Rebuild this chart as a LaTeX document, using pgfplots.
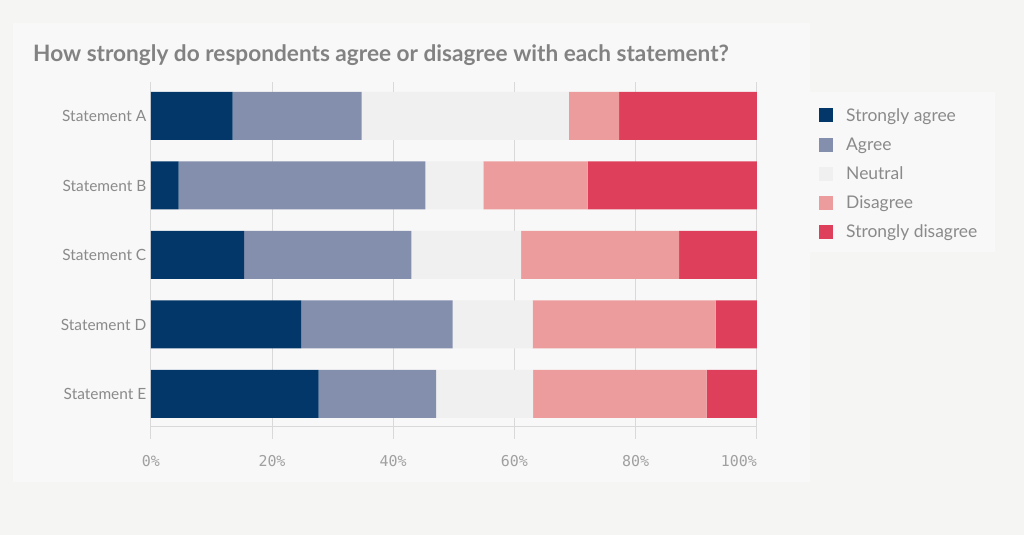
\documentclass[border=0pt]{standalone}
\usepackage{pgfplots}
\pgfplotsset{compat=1.18}
\usepackage{pgfplotstable}
\usepackage{fontspec}
\setmainfont{Lato}
\newfontfamily\tickfont{DejaVu Sans Mono}
\definecolor{bgout}{HTML}{F5F5F4}
\definecolor{bgin}{HTML}{F8F8F8}
\definecolor{csa}{HTML}{03376A}
\definecolor{cag}{HTML}{848EAD}
\definecolor{cne}{HTML}{F0F0F0}
\definecolor{cdi}{HTML}{EC9C9D}
\definecolor{csd}{HTML}{DE405B}
\definecolor{gridc}{HTML}{D9D9D9}
\definecolor{txt}{HTML}{8A8A8A}
\definecolor{ticktxt}{HTML}{A0A0A0}
\definecolor{titlec}{HTML}{828282}

\pgfplotstableread{
y sa ag ne di sd
4 13.5 21.3 34.2 8.3 22.7
3 4.6 40.7 9.6 17.2 27.9
2 15.4 27.6 18.1 26.1 12.8
1 24.8 25.0 13.2 30.2 6.8
0 27.7 19.4 16.0 28.6 8.3
}\data

\begin{document}
\begin{tikzpicture}
\fill[bgout] (0,0) rectangle (1024bp,535bp);
\fill[bgin] (13bp,53.3bp) rectangle (810bp,512.3bp);
\fill[bgin] (810bp,283.3bp) rectangle (995bp,443bp);
\node[anchor=base west, text=titlec, font=\bfseries\fontsize{22.7}{27}\selectfont, inner sep=0pt]
  at (33bp,473.5bp) {How strongly do respondents agree or disagree with each statement?};
\begin{axis}[
  at={(150.8bp,108bp)}, anchor=south west,
  scale only axis, width=606bp, height=345bp,
  xbar stacked, bar width=48bp,
  xmin=0, xmax=100, ymin=-0.475, ymax=4.489,
  ytick={0,1,2,3,4},
  yticklabels={Statement E,Statement D,Statement C,Statement B,Statement A},
  xtick={0,20,40,60,80,100},
  xticklabels={0\%,20\%,40\%,60\%,80\%,\makebox[0pt][r]{100\%}},
  xmajorgrids, grid style={gridc, line width=1bp},
  axis x line*=bottom, axis y line*=left,
  axis line style={-},
  separate axis lines,
  x axis line style={gridc, line width=1bp},
  y axis line style={draw=none},
  tick align=outside, major tick length=12bp,
  xtick style={gridc, line width=1bp},
  ytick style={draw=none},
  yticklabel style={font=\fontsize{15.5}{18}\selectfont, text=txt, xshift=11bp},
  xticklabel style={font=\tickfont\fontsize{15}{18}\selectfont, text=ticktxt, yshift=-13bp},
  legend style={at={(1.0977,0.936)}, anchor=north west, draw=none, fill=none,
    font=\fontsize{17.5}{20}\selectfont, text=txt, row sep=11bp, column sep=11bp},
  legend cell align=left,
  legend image code/.code={\fill[#1] (0bp,-7bp) rectangle (14bp,7bp);},
]
\addplot[fill=csa, draw=none] table[x=sa, y=y] {\data};
\addplot[fill=cag, draw=none] table[x=ag, y=y] {\data};
\addplot[fill=cne, draw=none] table[x=ne, y=y] {\data};
\addplot[fill=cdi, draw=none] table[x=di, y=y] {\data};
\addplot[fill=csd, draw=none] table[x=sd, y=y] {\data};
\legend{Strongly agree, Agree, Neutral, Disagree, Strongly disagree}
\end{axis}
\pgfresetboundingbox
\useasboundingbox (0,0) rectangle (1024bp,535bp);
\end{tikzpicture}
\end{document}
